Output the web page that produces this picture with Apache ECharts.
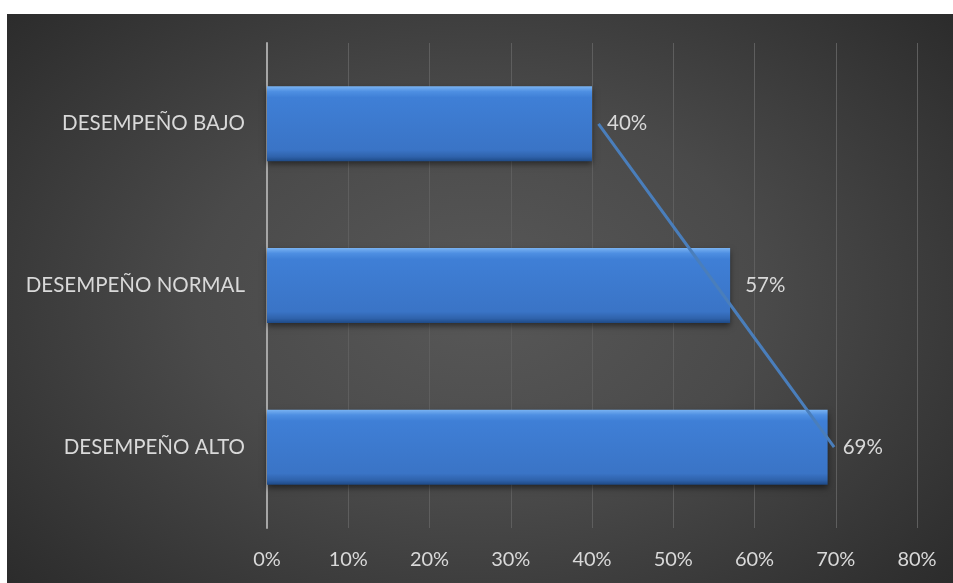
<!DOCTYPE html>
<html>
<head>
<meta charset="utf-8">
<script src="https://cdn.jsdelivr.net/npm/echarts@6/dist/echarts.min.js"></script>
<style>
html,body{margin:0;padding:0;background:#fff;width:953px;height:583px;overflow:hidden;}
#bg{position:absolute;left:7px;top:14px;width:946px;height:569px;
background:radial-gradient(ellipse 75% 85% at 50% 50%, #585858 0%, #4a4a4a 40%, #313131 80%, #252525 100%);}
#chart{position:absolute;left:7px;top:14px;width:946px;height:569px;}
</style>
</head>
<body>
<div id="bg"></div>
<div id="chart"></div>
<script>
const categories = ['DESEMPEÑO BAJO', 'DESEMPEÑO NORMAL', 'DESEMPEÑO ALTO'];
const values = [40, 57, 69];
const trendValues = [40.8, 55.3, 69.8];
const xTicks = {min: 0, max: 80, interval: 10};

const chart = echarts.init(document.getElementById('chart'), null, {renderer: 'canvas'});
const font = 'Lato';
chart.setOption({
  backgroundColor: 'transparent',
  animation: false,
  grid: {left: 260, right: 36, top: 29, bottom: 55, containLabel: false},
  xAxis: {
    type: 'value', min: xTicks.min, max: xTicks.max, interval: xTicks.interval,
    axisLine: {show: false}, axisTick: {show: false},
    axisLabel: {formatter: '{value}%', color: '#d9d9d9', fontSize: 20, fontFamily: font, margin: 22},
    splitLine: {show: true, lineStyle: {color: '#5e5e5e', width: 1}}
  },
  yAxis: {
    type: 'category', data: categories, inverse: true,
    axisLine: {show: true, lineStyle: {color: '#a6a6a6', width: 2}},
    axisTick: {show: false},
    axisLabel: {color: '#d9d9d9', fontSize: 20.5, fontFamily: font, margin: 22}
  },
  series: [
    {
      type: 'bar', data: values, barWidth: 75,
      itemStyle: {
        color: {type: 'linear', x: 0, y: 0, x2: 0, y2: 1, colorStops: [
          {offset: 0, color: '#7ab3f2'},
          {offset: 0.07, color: '#4e8fe2'},
          {offset: 0.15, color: '#3f7fd6'},
          {offset: 0.85, color: '#3a74c6'},
          {offset: 0.94, color: '#2f62ab'},
          {offset: 1, color: '#1e4a86'}
        ]},
        shadowColor: 'rgba(0,0,0,0.5)', shadowBlur: 6, shadowOffsetY: 3
      },
      label: {show: true, position: 'right', distance: 15, formatter: '{c}%',
        color: '#d9d9d9', fontSize: 20.5, fontFamily: font}
    },
    {
      type: 'line', data: trendValues, symbol: 'none', z: 5,
      lineStyle: {color: '#4a7ebb', width: 3}
    }
  ]
});
</script>
</body>
</html>
